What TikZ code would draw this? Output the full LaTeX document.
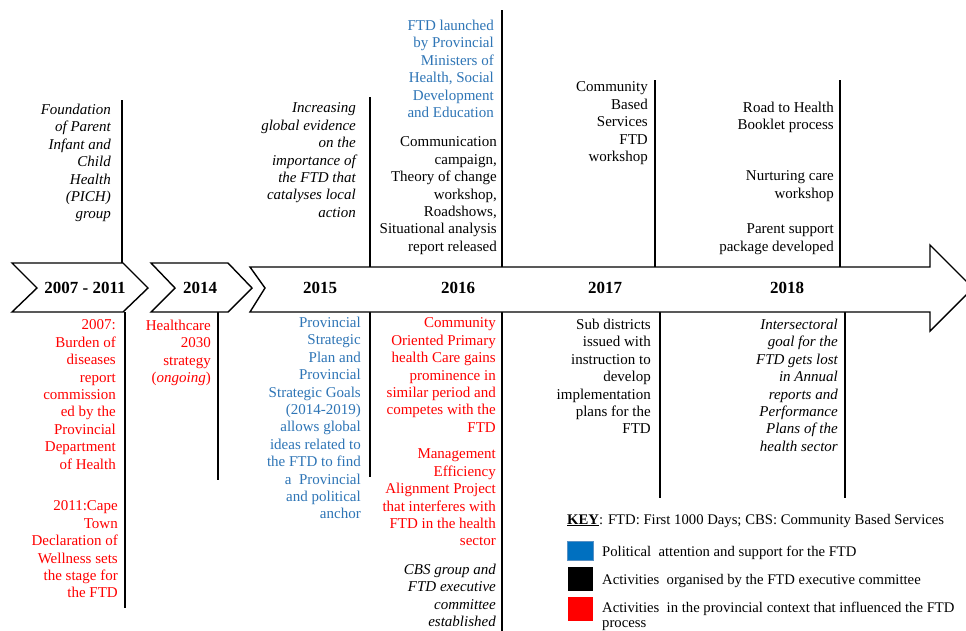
\documentclass[tikz,border=0pt]{standalone}
\usepackage{fontspec}
\setmainfont{Liberation Serif}
\definecolor{fblue}{HTML}{2E75B6}
\definecolor{fred}{HTML}{FF0000}
\definecolor{kblue}{HTML}{0070C0}
\begin{document}
\begin{tikzpicture}[x=1pt,y=-1pt,
  blk/.style={inner sep=0pt, align=right, anchor=north east,
    font=\fontsize{15}{17.4}\selectfont, execute at begin node=\strut},
  bl/.style={blk, text=fblue},
  rd/.style={blk, text=fred},
  it/.style={blk, font=\fontsize{15}{17.4}\selectfont\itshape},
  yr/.style={inner sep=0pt, font=\fontsize{17}{20}\selectfont\bfseries},
  outline/.style={draw=black, line width=1.4pt, fill=white, line join=miter},
  vline/.style={draw=black, line width=2.6pt},
  keytxt/.style={inner sep=0pt, anchor=base west, font=\fontsize{14.7}{17.4}\selectfont},
  keysq/.style={line width=0.8pt}
]
\useasboundingbox (0,0) rectangle (966,630);
\clip (0,0) rectangle (966,630);
\fill[white] (0,0) rectangle (966,630);

% ---- vertical lines (upper)
\coordinate (u1a) at (122,100); \coordinate (u1b) at (122,263);
\coordinate (u2a) at (370,97);  \coordinate (u2b) at (370,267);
\coordinate (u3a) at (502,10);  \coordinate (u3b) at (502,267);
\coordinate (u4a) at (655,80);  \coordinate (u4b) at (655,267);
\coordinate (u5a) at (840,80);  \coordinate (u5b) at (840,267);
% ---- vertical lines (lower)
\coordinate (l1a) at (125,312); \coordinate (l1b) at (125,608);
\coordinate (l2a) at (218,312); \coordinate (l2b) at (218,480);
\coordinate (l3a) at (370,312); \coordinate (l3b) at (370,477);
\coordinate (l4a) at (502,312); \coordinate (l4b) at (502,632);
\coordinate (l5a) at (660,312); \coordinate (l5b) at (660,498);
\coordinate (l6a) at (845,312); \coordinate (l6b) at (845,498);
\foreach \a/\b in {u1a/u1b,u2a/u2b,u3a/u3b,u4a/u4b,u5a/u5b,l1a/l1b,l2a/l2b,l3a/l3b,l4a/l4b,l5a/l5b,l6a/l6b}
  \draw[vline] (\a) -- (\b);

% ---- chevrons and main arrow
\draw[outline] (12,263) -- (123,263) -- (148,288) -- (123,312) -- (12,312) -- (37,288) -- cycle;
\draw[outline] (151,263) -- (228,263) -- (252,288) -- (228,312) -- (151,312) -- (175,288) -- cycle;
\draw[outline] (250,267) -- (930,267) -- (930,245) -- (973,288) -- (930,331) -- (930,312) -- (250,312) -- (265,288) -- cycle;

% ---- year labels
\node[yr] (y1) at (85,288) {2007 - 2011};
\node[yr] (y2) at (200,288) {2014};
\node[yr] (y3) at (320,288) {2015};
\node[yr] (y4) at (458,288) {2016};
\node[yr] (y5) at (605,288) {2017};
\node[yr] (y6) at (787,288) {2018};

% ---- upper texts
\node[it] (t1) at (111,103.8) {Foundation\\of Parent\\Infant and\\Child\\Health\\(PICH)\\group};
\node[it] (t2) at (356,102.8) {Increasing\\global evidence\\on the\\importance of\\the FTD that\\catalyses local\\action};
\node[bl] (t3) at (494,19.8) {FTD launched\\by Provincial\\Ministers of\\Health, Social\\Development\\and Education};
\node[blk] (t4) at (497,136.8) {Communication\\campaign,\\Theory of change\\workshop,\\Roadshows,\\Situational analysis\\report released};
\node[blk] (t5) at (648,81.8) {Community\\Based\\Services\\FTD\\workshop};
\node[blk] (t6) at (834,101.8) {Road to Health\\Booklet process};
\node[blk] (t7) at (834,170.8) {Nurturing care\\workshop};
\node[blk] (t8) at (834,223.8) {Parent support\\package developed};

% ---- lower texts
\node[rd] (b1) at (116,319.8) {2007:\\Burden of\\diseases\\report\\commission\\ed by the\\Provincial\\Department\\of Health};
\node[rd] (b2) at (118,500.8) {2011:Cape\\Town\\Declaration of\\Wellness sets\\the stage for\\the FTD};
\node[rd] (b3) at (211,319.8) {Healthcare\\2030\\strategy\\(\textit{ongoing})};
\node[bl] (b4) at (361,316.8) {Provincial\\Strategic\\Plan and\\Provincial\\Strategic Goals\\(2014-2019)\\allows global\\ideas related to\\the FTD to find\\a \ Provincial\\and political\\anchor};
\node[rd] (b5) at (496,317.8) {Community\\Oriented Primary\\health Care gains\\prominence in\\similar period and\\competes with the\\FTD};
\node[rd] (b6) at (496,448.8) {Management\\Efficiency\\Alignment Project\\that interferes with\\FTD in the health\\sector};
\node[it] (b7) at (496,563.8) {CBS group and\\FTD executive\\committee\\established};
\node[blk] (b8) at (651,318.8) {Sub districts\\issued with\\instruction to\\develop\\implementation\\plans for the\\FTD};
\node[it] (b9) at (838,318.8) {Intersectoral\\goal for the\\FTD gets lost\\in Annual\\reports and\\Performance\\Plans of the\\health sector};

% ---- key
\node[keytxt] (key) at (567,524) {\textbf{\underline{KEY}}: FTD: First 1000 Days; CBS: Community Based Services};
\filldraw[keysq, fill=kblue, draw=fblue!80] (567.5,541) rectangle (593,560);
\fill[black] (567.5,567) rectangle (593,591);
\fill[fred] (567.5,597) rectangle (593,621);
\node[keytxt] (k1) at (602,556) {Political\ \ attention and support for the FTD};
\node[keytxt] (k2) at (602,584) {Activities\ \ organised by the FTD\ executive committee};
\node[keytxt] (k3) at (602,612) {Activities\ \ in the provincial\ context that influenced the FTD};
\node[keytxt] (k4) at (602,627) {process};
\end{tikzpicture}
\end{document}
